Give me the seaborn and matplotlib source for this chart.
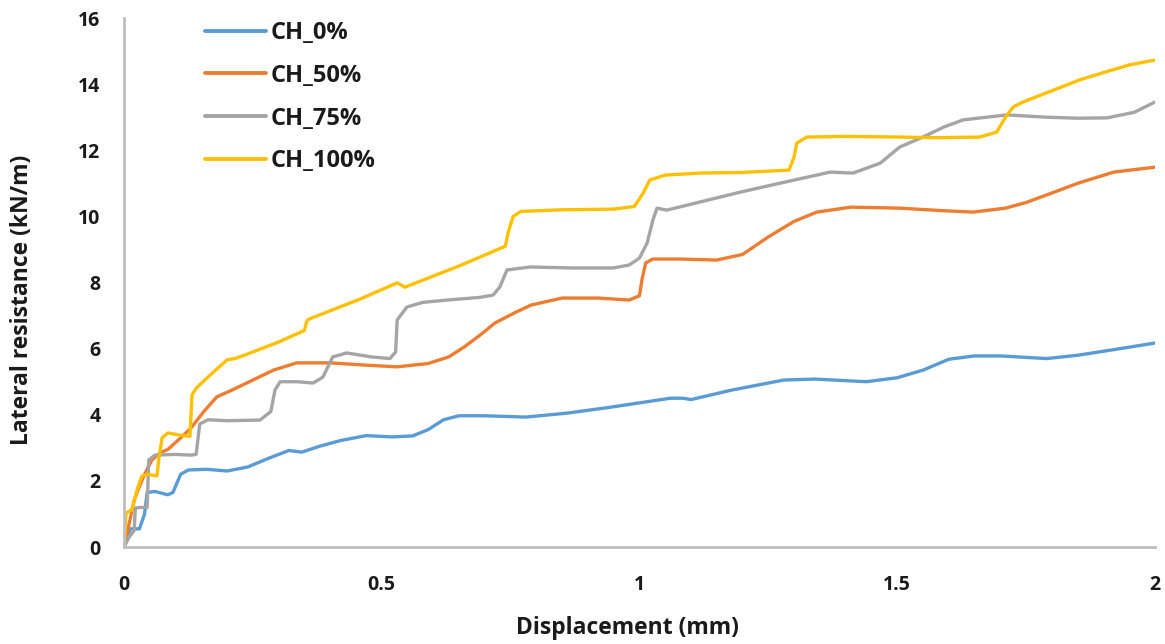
import numpy as np
import pandas as pd
import matplotlib
matplotlib.use("Agg")
import matplotlib.pyplot as plt
import seaborn as sns

# Lateral resistance vs. displacement for four CH contents
series_names = ["CH_0%", "CH_50%", "CH_75%", "CH_100%"]
series_colors = ["#5B9BD5", "#ED7D31", "#A5A5A5", "#FFC000"]

ch0_x = [0, 0.012, 0.03, 0.04, 0.045, 0.06, 0.085, 0.095, 0.11, 0.125, 0.16, 0.2, 0.24,
         0.28, 0.32, 0.345, 0.38, 0.42, 0.47, 0.52, 0.56, 0.59, 0.62, 0.65, 0.7, 0.78,
         0.86, 0.94, 1.0, 1.06, 1.085, 1.1, 1.18, 1.28, 1.34, 1.44, 1.5, 1.55, 1.6,
         1.65, 1.7, 1.79, 1.85, 1.92, 2.0]
ch0_y = [0, 0.55, 0.55, 1.0, 1.65, 1.68, 1.58, 1.65, 2.2, 2.33, 2.35, 2.3, 2.42,
         2.68, 2.92, 2.87, 3.05, 3.22, 3.37, 3.33, 3.36, 3.55, 3.85, 3.97, 3.97, 3.93,
         4.05, 4.22, 4.36, 4.5, 4.5, 4.46, 4.75, 5.05, 5.08, 5.0, 5.12, 5.35, 5.68,
         5.78, 5.78, 5.7, 5.8, 5.97, 6.17]

ch50_x = [0, 0.01, 0.02, 0.027, 0.04, 0.054, 0.07, 0.085, 0.11, 0.13, 0.155, 0.18,
          0.21, 0.25, 0.29, 0.335, 0.4, 0.47, 0.53, 0.59, 0.63, 0.66, 0.69, 0.72, 0.76,
          0.79, 0.85, 0.92, 0.98, 1.0, 1.005, 1.012, 1.026, 1.08, 1.15, 1.2, 1.25, 1.3,
          1.344, 1.41, 1.505, 1.58, 1.647, 1.71, 1.75, 1.79, 1.85, 1.92, 2.0]
ch50_y = [0, 0.7, 1.42, 1.72, 2.2, 2.63, 2.85, 2.95, 3.3, 3.6, 4.1, 4.54,
          4.75, 5.05, 5.35, 5.57, 5.57, 5.5, 5.45, 5.55, 5.75, 6.05, 6.4, 6.78, 7.1,
          7.32, 7.53, 7.53, 7.47, 7.6, 8.1, 8.59, 8.71, 8.71, 8.68, 8.85, 9.38, 9.85,
          10.13, 10.28, 10.25, 10.18, 10.13, 10.25, 10.42, 10.65, 11.0, 11.34, 11.49]

ch75_x = [0, 0.01, 0.02, 0.022, 0.035, 0.045, 0.048, 0.06, 0.1, 0.13, 0.14, 0.143,
          0.147, 0.163, 0.2, 0.264, 0.285, 0.293, 0.303, 0.335, 0.367, 0.386, 0.405,
          0.432, 0.48, 0.516, 0.527, 0.53, 0.549, 0.58, 0.627, 0.69, 0.716, 0.729,
          0.743, 0.788, 0.87, 0.949, 0.98, 1.0, 1.015, 1.026, 1.034, 1.053, 1.2, 1.3,
          1.37, 1.414, 1.467, 1.505, 1.55, 1.59, 1.628, 1.713, 1.79, 1.85, 1.907,
          1.96, 2.0]
ch75_y = [0, 0.3, 0.5, 1.18, 1.2, 1.2, 2.63, 2.78, 2.8, 2.78, 2.8, 3.2,
          3.72, 3.85, 3.82, 3.84, 4.1, 4.75, 5.0, 5.0, 4.96, 5.14, 5.75,
          5.87, 5.75, 5.7, 5.9, 6.87, 7.26, 7.4, 7.47, 7.55, 7.62, 7.86,
          8.38, 8.47, 8.44, 8.44, 8.53, 8.74, 9.2, 9.89, 10.25, 10.19, 10.75, 11.1,
          11.34, 11.31, 11.61, 12.1, 12.4, 12.7, 12.92, 13.07, 13.0, 12.97, 12.98,
          13.15, 13.46]

ch100_x = [0, 0.004, 0.015, 0.027, 0.035, 0.045, 0.064, 0.068, 0.074, 0.085, 0.11,
           0.128, 0.132, 0.14, 0.16, 0.2, 0.215, 0.235, 0.3, 0.35, 0.355, 0.36, 0.458,
           0.53, 0.545, 0.65, 0.74, 0.745, 0.755, 0.77, 0.85, 0.95, 0.99, 1.007, 1.02,
           1.05, 1.117, 1.2, 1.29, 1.3, 1.305, 1.325, 1.4, 1.505, 1.58, 1.66, 1.693,
           1.71, 1.725, 1.744, 1.8, 1.854, 1.9, 1.95, 2.0]
ch100_y = [0, 1.03, 1.12, 1.81, 2.15, 2.2, 2.15, 2.7, 3.3, 3.45, 3.38,
           3.35, 4.6, 4.8, 5.1, 5.66, 5.7, 5.81, 6.2, 6.55, 6.85, 6.9, 7.5,
           7.99, 7.86, 8.5, 9.1, 9.5, 10.0, 10.15, 10.2, 10.22, 10.3, 10.7, 11.1,
           11.25, 11.31, 11.33, 11.4, 11.8, 12.22, 12.4, 12.42, 12.4, 12.38, 12.4, 12.55,
           13.0, 13.31, 13.46, 13.8, 14.13, 14.35, 14.58, 14.73]

x_ticks = [0, 0.5, 1, 1.5, 2]
x_tick_labels = ["0", "0.5", "1", "1.5", "2"]
y_ticks = [0, 2, 4, 6, 8, 10, 12, 14, 16]

frames = []
for name, xs, ys in zip(series_names,
                        [ch0_x, ch50_x, ch75_x, ch100_x],
                        [ch0_y, ch50_y, ch75_y, ch100_y]):
    frames.append(pd.DataFrame({"Displacement": xs, "Resistance": ys,
                                "Series": name}))
df = pd.concat(frames, ignore_index=True)

sns.set_style("white")
plt.rcParams["font.family"] = ["Open Sans", "DejaVu Sans"]
plt.rcParams["font.weight"] = "bold"

text_color = "#1a1a1a"

fig = plt.figure(figsize=(11.65, 6.44), dpi=100)
ax = fig.add_axes([0.1064, 0.1506, 0.885, 0.8214])

sns.lineplot(data=df, x="Displacement", y="Resistance", hue="Series",
             hue_order=series_names, palette=series_colors, sort=False,
             estimator=None, units="Series", linewidth=2.4, ax=ax,
             solid_joinstyle="round", solid_capstyle="round")

ax.set_xlim(0, 2)
ax.set_ylim(0, 16)
ax.set_xticks(x_ticks)
ax.set_xticklabels(x_tick_labels)
ax.set_yticks(y_ticks)
ax.tick_params(axis="both", length=0, labelsize=14, colors=text_color)
ax.tick_params(axis="x", pad=20)
ax.tick_params(axis="y", pad=17)
for lbl in ax.get_xticklabels() + ax.get_yticklabels():
    lbl.set_fontweight("bold")

ax.set_xlabel("Displacement (mm)", fontsize=16.5, fontweight="bold",
              color=text_color)
ax.set_ylabel("Lateral resistance (kN/m)", fontsize=16.5, fontweight="bold",
              color=text_color)
ax.xaxis.set_label_coords(0.488, -0.153)
ax.yaxis.set_label_coords(-0.099, 0.467)
ax.xaxis.label.set_va("center")
ax.yaxis.label.set_va("center")

for side in ["top", "right"]:
    ax.spines[side].set_visible(False)
for side in ["left", "bottom"]:
    ax.spines[side].set_color("#BFBFBF")
    ax.spines[side].set_linewidth(2)

leg = ax.legend(loc="upper left", bbox_to_anchor=(0.058, 1.035), frameon=False,
                handlelength=2.6, handletextpad=0.2, labelspacing=0.8,
                prop={"weight": "bold", "size": 17})
for h in leg.get_lines():
    h.set_linewidth(2.8)
for t in leg.get_texts():
    t.set_color(text_color)

fig.savefig("out.png", dpi=100)
